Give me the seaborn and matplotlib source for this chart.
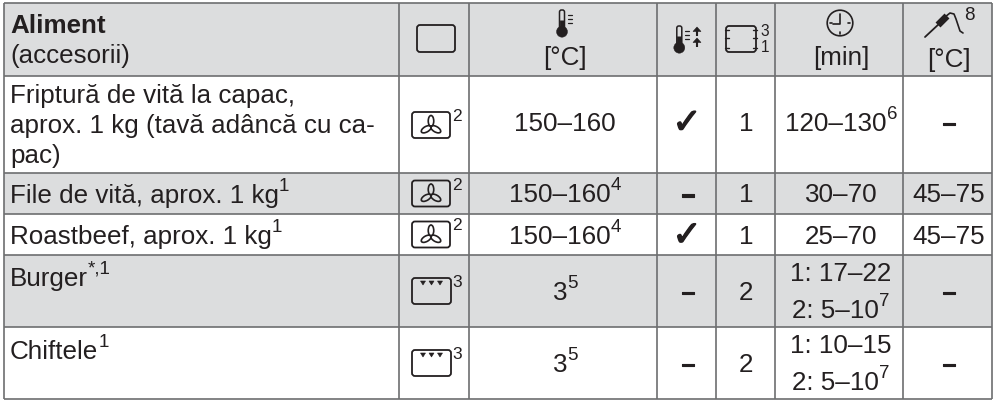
import numpy as np
import seaborn as sns
import matplotlib
matplotlib.use("Agg")
import matplotlib.pyplot as plt
import matplotlib.patheffects as pe
from matplotlib.colors import ListedColormap
from matplotlib.patches import FancyBboxPatch, Circle, Polygon, Ellipse

# table content, "^" starts a superscript
foods = [
    ["Friptură de vită la capac,", "aprox. 1 kg (tavă adâncă cu ca-", "pac)"],
    ["File de vită, aprox. 1 kg^1"],
    ["Roastbeef, aprox. 1 kg^1"],
    ["Burger^*,1"],
    ["Chiftele^1"],
]
modes = ["fan", "fan", "fan", "grill", "grill"]
mode_notes = ["2", "2", "2", "3", "3"]
temps = ["150–160", "150–160^4", "150–160^4", "3^5", "3^5"]
preheat = ["✓", "–", "✓", "–", "–"]
levels = ["1", "1", "1", "2", "2"]
times = [["120–130^6"], ["30–70"], ["25–70"], ["1: 17–22", "2: 5–10^7"], ["1: 10–15", "2: 5–10^7"]]
probe = ["–", "45–75", "45–75", "–", "–"]
shaded = [1, 0, 1, 0, 1, 0]  # header + rows

# layout in pixels
col_edges = [4, 399, 469, 657, 716, 775, 903, 992]
row_edges = [3, 76, 173, 214, 255, 327, 399]
food_base = [[103, 133, 163], [203], [244], [286], [359]]

GREY = "#dcddde"
LINE = "#6d6e70"
INK = "#231f20"
FS = 18.7
SUP = 13.5

sns.set_theme(style="white")
plt.rcParams["font.family"] = ["Liberation Sans", "DejaVu Sans"]

# background cells through a heatmap, one cell per pixel
bg = np.zeros((400, 994))
for i, s in enumerate(shaded):
    bg[row_edges[i]:row_edges[i + 1], col_edges[0]:col_edges[-1]] = s

fig = plt.figure(figsize=(9.94, 4.0), dpi=100)
ax = fig.add_axes([0, 0, 1, 1])
sns.heatmap(bg, ax=ax, cbar=False, cmap=ListedColormap(["white", GREY]), vmin=0, vmax=1,
            xticklabels=False, yticklabels=False)
ax.set_xlim(0, 994)
ax.set_ylim(400, 0)

ax.vlines(col_edges, row_edges[0], row_edges[-1], color=LINE, lw=1.2)
ax.hlines(row_edges, col_edges[0], col_edges[-1], color=LINE, lw=1.2)

rend = fig.canvas.get_renderer()


def width(t):
    return t.get_window_extent(rend).width


def put(x, y, s, center=False, weight="normal", size=FS):
    base, _, note = s.partition("^")
    t = ax.text(x, y, base, fontsize=size, color=INK, weight=weight, va="baseline", ha="left")
    w = width(t)
    n = None
    if note:
        n = ax.text(x + w, y - 12, note, fontsize=SUP, color=INK, va="baseline", ha="left")
        w += width(n)
    if center:
        t.set_x(x - w / 2)
        if n:
            n.set_x(x - w / 2 + width(t))


def dash(x, y):
    t = ax.text(x, y, "–", fontsize=FS, color=INK, weight="bold", ha="center", va="baseline")
    t.set_path_effects([pe.withStroke(linewidth=0.8, foreground=INK)])


def box(x0, y0, x1, y1, r=3, lw=1.3):
    ax.add_patch(FancyBboxPatch((x0 + r, y0 + r), x1 - x0 - 2 * r, y1 - y0 - 2 * r,
                                boxstyle="round,pad=%d,rounding_size=%d" % (r, r),
                                fc="none", ec=INK, lw=lw))


def fan_icon(y):
    box(412, y - 13, 450, y + 13)
    cx, cy = 431, y + 1.5
    for ang in (90, 210, 330):
        a = np.deg2rad(ang)
        ax.add_patch(Ellipse((cx + 5.5 * np.cos(a), cy - 5.5 * np.sin(a)), 11, 5.5, angle=-ang,
                             fc="none", ec=INK, lw=1.2))


def grill_icon(y):
    box(412, y - 13, 451, y + 13)
    for dx in (423, 431.5, 440):
        ax.add_patch(Polygon([[dx - 2.5, y - 10], [dx + 2.5, y - 10], [dx, y - 6]], fc=INK, ec=INK, lw=0.4))


def thermo(x, y, h=17):
    ax.add_patch(FancyBboxPatch((x - 1.5, y - h), 3, h, boxstyle="round,pad=1,rounding_size=2",
                                fc="none", ec=INK, lw=1.1))
    ax.plot([x, x], [y - h * 0.45, y], color=INK, lw=3.5, solid_capstyle="butt")
    ax.add_patch(Circle((x, y + 3.7), 5.5, fc=INK, ec=INK, lw=0.3))
    for k in range(3):
        ax.plot([x + 5.5, x + 10], [y - h + 4 + k * 4] * 2, color=INK, lw=0.9)


def arrow(x, y):
    ax.plot([x, x], [y + 3, y + 9], color=INK, lw=1.5, solid_capstyle="butt")
    ax.add_patch(Polygon([[x - 4, y + 4.5], [x + 4, y + 4.5], [x, y]], fc=INK, ec=INK, lw=0.4))


# header
put(10, 33, "Aliment", weight="bold")
put(10, 63, "(accesorii)")
box(417, 25, 455, 52)
thermo(562, 28)
put(565, 65, "[°C]", center=True)
thermo(679.3, 44)
arrow(697, 27)
arrow(697, 38)
box(726, 26, 756, 52)
for yy in (30, 38, 48):
    ax.plot([725, 729], [yy, yy], color=INK, lw=1)
    ax.plot([753, 757], [yy, yy], color=INK, lw=1)
ax.text(760.5, 36, "3", fontsize=11.2, color=INK, va="baseline")
ax.text(760.5, 52, "1", fontsize=11.2, color=INK, va="baseline")
ax.add_patch(Circle((840, 23), 12.8, fc="none", ec=INK, lw=1.2))
ax.plot([840, 840, 833], [14, 24, 24], color=INK, lw=1.2)
for a, b in (((840, 32), (840, 34)), ((830, 23), (832, 23)), ((848, 23), (850, 23))):
    ax.plot([a[0], b[0]], [a[1], b[1]], color=INK, lw=1.2)
put(841, 65, "[min]", center=True)
ax.plot([925, 940], [37, 23], color=INK, lw=1.3)
ax.plot([938, 947], [25, 16], color=INK, lw=5, solid_capstyle="butt")
ax.plot([945, 950, 954, 956, 958, 960, 963], [17, 13, 14, 19, 25, 31, 33], color=INK, lw=1.2)
ax.text(964, 20, "8", fontsize=13.5, color=INK, va="baseline")
put(949, 67, "[°C]", center=True)

# body
for i in range(5):
    for line, y in zip(foods[i], food_base[i]):
        put(10, y, line)

    top, bottom = row_edges[i + 1], row_edges[i + 2]
    mid = (top + bottom) / 2
    base = mid + 9 if i > 0 else 131
    icon_y = mid if i > 0 else 125
    if modes[i] == "fan":
        fan_icon(icon_y)
    else:
        grill_icon(icon_y)
    ax.text(452, icon_y - 4, mode_notes[i], fontsize=12.5, color=INK, va="baseline")

    put(565, base, temps[i], center=True)
    if preheat[i] == "✓":
        t = ax.text(687, base + 2, "✓", fontsize=25, color=INK, ha="center", va="baseline",
                    family="DejaVu Sans")
        t.set_path_effects([pe.withStroke(linewidth=1.0, foreground=INK)])
    else:
        dash(688, base)
    put(746, base, levels[i], center=True)
    lines = times[i]
    ys = [base] if len(lines) == 1 else [mid - 10, mid + 27]
    for s, y in zip(lines, ys):
        put(841, y, s, center=True)
    if probe[i] == "–":
        dash(949, base)
    else:
        put(949, base, probe[i], center=True)

fig.savefig("out.png", dpi=100)
